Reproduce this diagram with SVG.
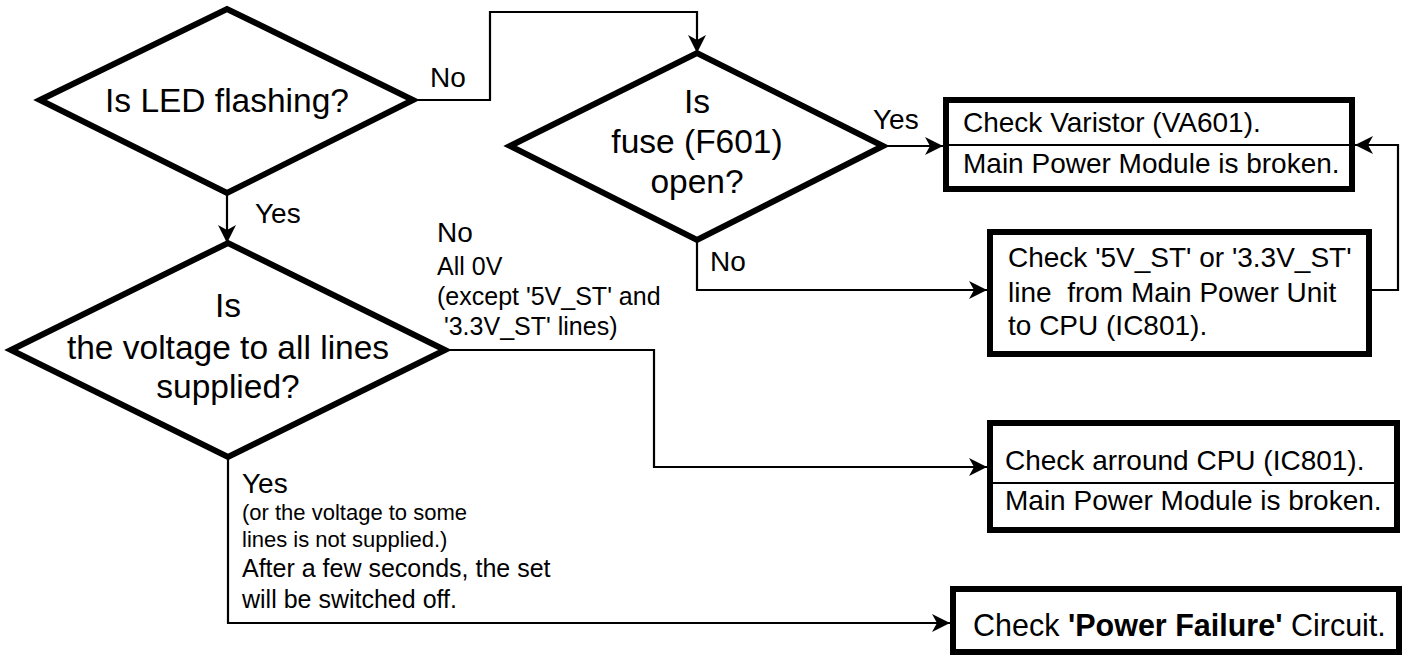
<svg xmlns="http://www.w3.org/2000/svg" width="1406" height="656" viewBox="0 0 1406 656">
<style>
text{font-family:"Liberation Sans",Arial,sans-serif;fill:#000}
.dq{font-size:33.5px;text-anchor:middle}
.bx{font-size:28px}
.lb{font-size:28px}
.sm{font-size:25px;white-space:pre}
.xs{font-size:22px}
.big{font-size:30.5px}
.shape{fill:#fff;stroke:#000;stroke-width:6}
.div{stroke:#000;stroke-width:2}
.conn{fill:none;stroke:#000;stroke-width:2.2}
</style>
<defs>
<marker id="arr" markerUnits="userSpaceOnUse" markerWidth="20" markerHeight="20" refX="18" refY="10" orient="auto">
<path d="M0,1 L18,10 L0,19 L5,10 Z" fill="#000"/>
</marker>
</defs>
<rect width="1406" height="656" fill="#fff"/>
<g id="connectors">
<path class="conn" d="M413,100 H490 V12 H697 V53" marker-end="url(#arr)"/>
<path class="conn" d="M227,193 V243" marker-end="url(#arr)"/>
<path class="conn" d="M883,146 H943" marker-end="url(#arr)"/>
<path class="conn" d="M697,240 V290 H987" marker-end="url(#arr)"/>
<path class="conn" d="M1372,290 H1398 V145 H1355" marker-end="url(#arr)"/>
<path class="conn" d="M445,350 H654 V467 H987" marker-end="url(#arr)"/>
<path class="conn" d="M228,457 V623 H950" marker-end="url(#arr)"/>
</g>
<g id="labels">
<text class="lb" x="430" y="87">No</text>
<text class="lb" x="873" y="129">Yes</text>
<text class="lb" x="710" y="271">No</text>
<text class="lb" x="255" y="223">Yes</text>
<text class="lb" x="437" y="242">No</text>
<text class="sm" x="437" y="275">All 0V</text>
<text class="sm" x="437" y="305">(except '5V_ST' and</text>
<text class="sm" x="437" y="335"> '3.3V_ST' lines)</text>
<text class="lb" x="242" y="493">Yes</text>
<text class="xs" x="242" y="520">(or the voltage to some</text>
<text class="xs" x="242" y="547">lines is not supplied.)</text>
<text class="sm" x="242" y="577">After a few seconds, the set</text>
<text class="sm" x="242" y="608">will be switched off.</text>
</g>
<g id="d1">
<polygon class="shape" points="40,100 227,9 413,100 227,193"/>
<text class="dq" x="227" y="112">Is LED flashing?</text>
</g>
<g id="d2">
<polygon class="shape" points="510,146 697,53 883,146 697,240"/>
<text class="dq" x="697" y="113">Is</text>
<text class="dq" x="697" y="153">fuse (F601)</text>
<text class="dq" x="697" y="193">open?</text>
</g>
<g id="d3">
<polygon class="shape" points="11,350 228,243 445,350 228,457"/>
<text class="dq" x="228" y="317">Is</text>
<text class="dq" x="228" y="359">the voltage to all lines</text>
<text class="dq" x="228" y="398">supplied?</text>
</g>
<g id="box1">
<rect class="shape" x="946" y="100" width="406" height="89"/>
<line class="div" x1="946" y1="145" x2="1352" y2="145"/>
<text class="bx" x="963" y="132">Check Varistor (VA601).</text>
<text class="bx" x="963" y="173">Main Power Module is broken.</text>
</g>
<g id="box2">
<rect class="shape" x="990" y="232" width="379" height="122"/>
<text class="bx" x="1008" y="267">Check '5V_ST' or '3.3V_ST'</text>
<text class="bx" x="1008" y="302" style="white-space:pre">line  from Main Power Unit</text>
<text class="bx" x="1008" y="335">to CPU (IC801).</text>
</g>
<g id="box3">
<rect class="shape" x="990" y="423" width="407" height="107"/>
<line class="div" x1="990" y1="483" x2="1397" y2="483"/>
<text class="bx" x="1005" y="470">Check arround CPU (IC801).</text>
<text class="bx" x="1005" y="510">Main Power Module is broken.</text>
</g>
<g id="box4">
<rect class="shape" x="953" y="589" width="446" height="63"/>
<text class="big" x="973" y="636">Check <tspan font-weight="bold">'Power Failure'</tspan> Circuit.</text>
</g>
</svg>
